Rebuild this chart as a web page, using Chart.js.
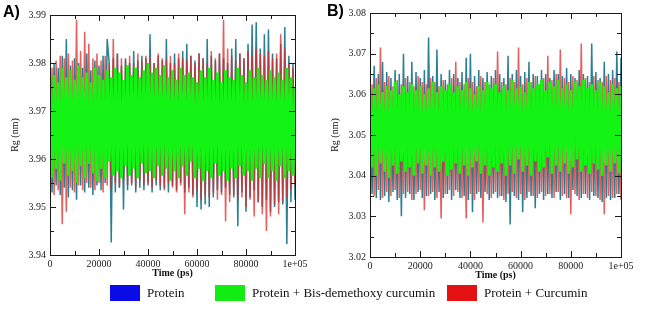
<!DOCTYPE html>
<html>
<head>
<meta charset="utf-8">
<script src="https://cdn.jsdelivr.net/npm/chart.js@4.4.1/dist/chart.umd.min.js"></script>
<style>
  html, body { margin: 0; padding: 0; background: #ffffff; }
  #wrap { position: relative; width: 660px; height: 310px; overflow: hidden; background: #fff; }
  .panel { position: absolute; }
  .plabel { position: absolute; font-family: 'Liberation Sans', Arial, sans-serif; font-weight: bold; font-size: 16px; color: #000; }
  #legend { position: absolute; left: 0; top: 284px; width: 660px; height: 22px; font-family: 'Liberation Serif', 'Times New Roman', serif; font-size: 13px; color: #111; }
  .lg { position: absolute; top: 0; display: flex; align-items: center; height: 17px; }
  .sw { width: 30px; height: 16px; margin-right: 7px; }
</style>
</head>
<body>
<div id="wrap">
  <div class="panel" style="left:0;top:0;width:330px;height:285px;"><canvas id="chartA" width="330" height="285"></canvas></div>
  <div class="panel" style="left:320px;top:0;width:340px;height:287px;"><canvas id="chartB" width="340" height="287"></canvas></div>
  <div class="plabel" style="left:3px;top:3px;">A)</div>
  <div class="plabel" style="left:327px;top:2px;">B)</div>
  <div id="legend"></div>
</div>
<script>
// ---------------- DATA ----------------
const seriesLabels = ['Protein', 'Protein + Bis-demethoxy curcumin', 'Protein + Curcumin'];
const xTickValues = [0, 20000, 40000, 60000, 80000, 100000];
const xTickLabels = ['0', '20000', '40000', '60000', '80000', '1e+05'];
const yTicksA = [3.94, 3.95, 3.96, 3.97, 3.98, 3.99];
const yTicksB = [3.02, 3.03, 3.04, 3.05, 3.06, 3.07, 3.08];
const simLengthPs = 100000;

// Panel A : Rg (nm), sampled along 0..100000 ps
const rgA_protein = [
3.9765,3.9530,3.9800,3.9545,3.9790,3.9525,3.9815,3.9540,3.9850,3.9520,
3.9795,3.9535,3.9810,3.9515,3.9800,3.9545,3.9790,3.9530,3.9820,3.9540,
3.9785,3.9525,3.9805,3.9545,3.9795,3.9535,3.9815,3.9550,3.9850,3.9800,
3.9426,3.9810,3.9530,3.9820,3.9540,3.9795,3.9495,3.9810,3.9535,3.9800,
3.9545,3.9825,3.9530,3.9805,3.9540,3.9815,3.9535,3.9810,3.9545,3.9860,
3.9530,3.9800,3.9545,3.9815,3.9535,3.9805,3.9540,3.9850,3.9530,3.9800,
3.9545,3.9820,3.9535,3.9810,3.9550,3.9825,3.9530,3.9840,3.9540,3.9815,
3.9525,3.9805,3.9500,3.9820,3.9495,3.9810,3.9505,3.9850,3.9500,3.9815,
3.9520,3.9805,3.9535,3.9820,3.9530,3.9810,3.9540,3.9800,3.9525,3.9830,
3.9520,3.9850,3.9460,3.9820,3.9530,3.9810,3.9490,3.9840,3.9520,3.9880,
3.9535,3.9885,3.9510,3.9830,3.9500,3.9860,3.9515,3.9870,3.9490,3.9820,
3.9500,3.9810,3.9510,3.9840,3.9505,3.9875,3.9423,3.9815,3.9510,3.9800,
3.9515];
const rgA_bdmc = [
3.9740,3.9560,3.9775,3.9580,3.9760,3.9555,3.9790,3.9590,3.9770,3.9565,
3.9785,3.9575,3.9765,3.9550,3.9795,3.9585,3.9770,3.9560,3.9780,3.9590,
3.9760,3.9570,3.9790,3.9555,3.9775,3.9580,3.9765,3.9560,3.9785,3.9595,
3.9770,3.9565,3.9790,3.9575,3.9780,3.9560,3.9765,3.9585,3.9795,3.9565,
3.9775,3.9580,3.9790,3.9560,3.9770,3.9590,3.9785,3.9570,3.9800,3.9575,
3.9780,3.9560,3.9790,3.9585,3.9775,3.9565,3.9795,3.9580,3.9770,3.9555,
3.9785,3.9575,3.9765,3.9560,3.9790,3.9585,3.9775,3.9565,3.9780,3.9595,
3.9770,3.9560,3.9760,3.9580,3.9785,3.9555,3.9770,3.9575,3.9790,3.9560,
3.9765,3.9590,3.9780,3.9565,3.9760,3.9575,3.9785,3.9555,3.9770,3.9580,
3.9765,3.9560,3.9790,3.9585,3.9775,3.9565,3.9760,3.9575,3.9785,3.9555,
3.9770,3.9580,3.9790,3.9560,3.9775,3.9590,3.9765,3.9560,3.9785,3.9575,
3.9770,3.9555,3.9780,3.9585,3.9765,3.9560,3.9790,3.9575,3.9770,3.9565,
3.9750];
const rgA_curcumin = [
3.9540,3.9790,3.9525,3.9805,3.9535,3.9815,3.9464,3.9810,3.9490,3.9820,
3.9540,3.9805,3.9530,3.9890,3.9545,3.9825,3.9535,3.9865,3.9550,3.9840,
3.9540,3.9810,3.9535,3.9820,3.9550,3.9805,3.9530,3.9815,3.9545,3.9800,
3.9535,3.9850,3.9550,3.9820,3.9540,3.9810,3.9555,3.9805,3.9545,3.9815,
3.9550,3.9800,3.9540,3.9820,3.9555,3.9805,3.9545,3.9815,3.9550,3.9810,
3.9540,3.9800,3.9555,3.9820,3.9545,3.9810,3.9535,3.9805,3.9550,3.9815,
3.9540,3.9800,3.9530,3.9820,3.9545,3.9810,3.9485,3.9805,3.9530,3.9815,
3.9520,3.9800,3.9535,3.9820,3.9515,3.9810,3.9525,3.9800,3.9520,3.9825,
3.9530,3.9810,3.9515,3.9820,3.9525,3.9890,3.9470,3.9830,3.9510,3.9815,
3.9525,3.9805,3.9515,3.9820,3.9520,3.9810,3.9500,3.9825,3.9515,3.9815,
3.9480,3.9830,3.9510,3.9820,3.9485,3.9815,3.9450,3.9825,3.9480,3.9810,
3.9505,3.9820,3.9485,3.9860,3.9510,3.9830,3.9520,3.9800,3.9535,3.9790,
3.9545];

// Panel B : Rg (nm)
const rgB_protein = [
3.0615,3.0355,3.0670,3.0345,3.0650,3.0340,3.0680,3.0350,3.0655,3.0335,
3.0640,3.0360,3.0660,3.0340,3.0650,3.0300,3.0700,3.0345,3.0645,3.0355,
3.0680,3.0340,3.0655,3.0360,3.0640,3.0345,3.0660,3.0350,3.0740,3.0355,
3.0645,3.0340,3.0710,3.0360,3.0650,3.0345,3.0635,3.0355,3.0660,3.0340,
3.0650,3.0365,3.0640,3.0345,3.0655,3.0350,3.0690,3.0340,3.0700,3.0310,
3.0645,3.0355,3.0660,3.0345,3.0640,3.0360,3.0655,3.0340,3.0645,3.0355,
3.0660,3.0345,3.0650,3.0350,3.0640,3.0335,3.0695,3.0280,3.0650,3.0350,
3.0660,3.0340,3.0645,3.0310,3.0655,3.0345,3.0680,3.0350,3.0650,3.0320,
3.0645,3.0355,3.0660,3.0340,3.0650,3.0355,3.0640,3.0345,3.0660,3.0360,
3.0650,3.0340,3.0645,3.0355,3.0665,3.0345,3.0650,3.0365,3.0640,3.0350,
3.0660,3.0345,3.0650,3.0355,3.0645,3.0340,3.0725,3.0350,3.0655,3.0345,
3.0640,3.0335,3.0680,3.0345,3.0650,3.0340,3.0660,3.0345,3.0705,3.0355,
3.0690];
const rgB_bdmc = [
3.0600,3.0420,3.0615,3.0400,3.0625,3.0430,3.0605,3.0410,3.0620,3.0395,
3.0610,3.0425,3.0630,3.0405,3.0600,3.0435,3.0620,3.0410,3.0605,3.0420,
3.0625,3.0400,3.0610,3.0430,3.0620,3.0405,3.0600,3.0425,3.0615,3.0400,
3.0630,3.0420,3.0605,3.0410,3.0620,3.0435,3.0610,3.0400,3.0625,3.0415,
3.0605,3.0430,3.0620,3.0405,3.0610,3.0425,3.0630,3.0400,3.0615,3.0420,
3.0600,3.0435,3.0620,3.0405,3.0610,3.0425,3.0630,3.0400,3.0615,3.0420,
3.0625,3.0410,3.0605,3.0430,3.0620,3.0400,3.0610,3.0425,3.0635,3.0405,
3.0615,3.0440,3.0620,3.0410,3.0605,3.0425,3.0630,3.0400,3.0615,3.0435,
3.0625,3.0410,3.0635,3.0420,3.0610,3.0445,3.0630,3.0405,3.0620,3.0425,
3.0635,3.0410,3.0615,3.0430,3.0625,3.0405,3.0610,3.0420,3.0630,3.0440,
3.0620,3.0410,3.0635,3.0425,3.0615,3.0405,3.0625,3.0430,3.0610,3.0415,
3.0630,3.0400,3.0620,3.0425,3.0605,3.0410,3.0625,3.0430,3.0615,3.0405,
3.0620];
const rgB_curcumin = [
3.0360,3.0625,3.0350,3.0640,3.0365,3.0715,3.0345,3.0630,3.0360,3.0645,
3.0350,3.0620,3.0365,3.0635,3.0345,3.0625,3.0355,3.0640,3.0360,3.0630,
3.0340,3.0620,3.0355,3.0645,3.0365,3.0630,3.0315,3.0625,3.0350,3.0640,
3.0360,3.0630,3.0345,3.0620,3.0295,3.0635,3.0355,3.0625,3.0365,3.0640,
3.0350,3.0680,3.0360,3.0630,3.0345,3.0625,3.0295,3.0640,3.0355,3.0630,
3.0340,3.0620,3.0360,3.0645,3.0285,3.0630,3.0355,3.0625,3.0345,3.0640,
3.0360,3.0705,3.0350,3.0630,3.0340,3.0625,3.0355,3.0640,3.0360,3.0630,
3.0345,3.0715,3.0355,3.0625,3.0340,3.0640,3.0360,3.0630,3.0350,3.0645,
3.0345,3.0625,3.0360,3.0640,3.0350,3.0695,3.0355,3.0635,3.0345,3.0650,
3.0360,3.0710,3.0350,3.0640,3.0345,3.0630,3.0305,3.0645,3.0355,3.0635,
3.0340,3.0725,3.0355,3.0640,3.0345,3.0630,3.0360,3.0645,3.0350,3.0635,
3.0340,3.0630,3.0305,3.0645,3.0350,3.0635,3.0345,3.0640,3.0355,3.0630,
3.0340];

// ---------------- STYLE ----------------
const lineColors = { protein: '#2b7f92', bdmc: '#14f414', curcumin: 'rgba(222,40,40,0.75)' };
const lineWidths = { protein: 1.5, bdmc: 3, curcumin: 1.5 };
const legendColors = ['#0b0be8', '#12ec12', '#e41212'];
const fontFamily = "'Liberation Serif', 'DejaVu Serif', 'Times New Roman', serif";

function toPoints(arr) {
  const step = simLengthPs / (arr.length - 1);
  return arr.map((v, i) => ({ x: i * step, y: v }));
}

const boxTicks = {
  id: 'boxTicks',
  afterDatasetsDraw(chart, args, opts) {
    const { ctx, chartArea: a, scales: { x, y } } = chart;
    ctx.save();
    ctx.strokeStyle = '#1a1a1a';
    ctx.lineWidth = 1;
    ctx.strokeRect(Math.round(a.left) + 0.5, Math.round(a.top) + 0.5, Math.round(a.right - a.left), Math.round(a.bottom - a.top));
    ctx.beginPath();
    for (let v = 0; v <= simLengthPs; v += 10000) {
      const px = Math.round(x.getPixelForValue(v)) + 0.5;
      const len = (v % 20000 === 0) ? 6 : 4;
      ctx.moveTo(px, a.bottom); ctx.lineTo(px, a.bottom - len);
      ctx.moveTo(px, a.top); ctx.lineTo(px, a.top + len);
    }
    const yt = opts.yTicks;
    for (let k = 0; k < (yt.length - 1) * 2 + 1; k++) {
      const v = yt[0] + k * 0.005;
      const py = Math.round(y.getPixelForValue(v)) + 0.5;
      const len = (k % 2 === 0) ? 6 : 4;
      ctx.moveTo(a.left, py); ctx.lineTo(a.left + len, py);
      ctx.moveTo(a.right, py); ctx.lineTo(a.right - len, py);
    }
    ctx.stroke();
    ctx.restore();
  }
};

function makeChart(id, prot, bdmc, curc, yTicks, pad) {
  const ds = (label, data, color, width, order) => ({
    label, data: toPoints(data), borderColor: color, borderWidth: width,
    pointRadius: 0, tension: 0, fill: false, order
  });
  return new Chart(document.getElementById(id), {
    type: 'line',
    data: {
      datasets: [
        ds(seriesLabels[0], prot, lineColors.protein, lineWidths.protein, 2),
        ds(seriesLabels[2], curc, lineColors.curcumin, lineWidths.curcumin, 1),
        ds(seriesLabels[1], bdmc, lineColors.bdmc, lineWidths.bdmc, 0)
      ]
    },
    options: {
      responsive: false, animation: false, events: [],
      layout: { padding: pad },
      plugins: { legend: { display: false }, tooltip: { enabled: false }, boxTicks: { yTicks } },
      scales: {
        x: {
          type: 'linear', min: 0, max: simLengthPs,
          afterBuildTicks: s => { s.ticks = xTickValues.map(v => ({ value: v })); },
          afterFit: s => { s.height = 30; },
          grid: { display: false, drawTicks: false },
          border: { display: false },
          ticks: { padding: 3, maxRotation: 0, autoSkip: false, color: '#222', font: { family: fontFamily, size: 10 },
                   callback: (v) => xTickLabels[xTickValues.indexOf(v)] },
          title: { display: true, text: 'Time (ps)', color: '#111', padding: { top: 0, bottom: 6 },
                   font: { family: fontFamily, size: 10, weight: 'bold' } }
        },
        y: {
          type: 'linear', min: yTicks[0], max: yTicks[yTicks.length - 1],
          afterBuildTicks: s => { s.ticks = yTicks.map(v => ({ value: v })); },
          afterFit: s => { s.width = 50; },
          grid: { display: false, drawTicks: false },
          border: { display: false },
          ticks: { padding: 4, color: '#222', font: { family: fontFamily, size: 10 },
                   callback: (v) => v.toFixed(2) },
          title: { display: true, text: 'Rg (nm)', color: '#111', padding: { top: 9, bottom: 0 },
                   font: { family: fontFamily, size: 10 } }
        }
      }
    },
    plugins: [boxTicks]
  });
}

makeChart('chartA', rgA_protein, rgA_bdmc, rgA_curcumin, yTicksA, { top: 15, right: 35, left: 0, bottom: 0 });
makeChart('chartB', rgB_protein, rgB_bdmc, rgB_curcumin, yTicksB, { top: 13, right: 39, left: 0, bottom: 0 });

// HTML legend
const legendPos = [110, 215, 447];
const lg = document.getElementById('legend');
seriesLabels.forEach((t, i) => {
  const d = document.createElement('div');
  d.className = 'lg';
  d.style.left = legendPos[i] + 'px';
  d.innerHTML = '<span class="sw" style="background:' + legendColors[i] + '"></span><span>' + t + '</span>';
  lg.appendChild(d);
});
</script>
</body>
</html>
